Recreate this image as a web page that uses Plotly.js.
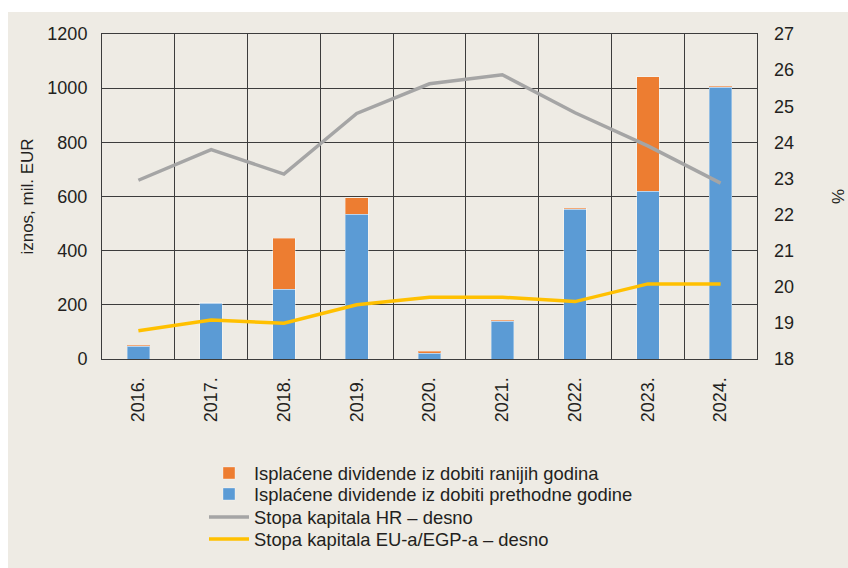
<!DOCTYPE html>
<html>
<head>
<meta charset="utf-8">
<script src="https://cdn.plot.ly/plotly-3.0.1.min.js"></script>
<style>html,body{margin:0;padding:0;background:#fff;}#chart{width:848px;height:568px;}</style>
</head>
<body>
<div id="chart"></div>
<script>
const years = ['2016.', '2017.', '2018.', '2019.', '2020.', '2021.', '2022.', '2023.', '2024.'];
const divPrethodne = [48, 205, 257, 534, 21, 140, 553, 619, 1003];
const divRanijih = [2, 3, 188, 61, 7, 4, 3, 424, 5];
const stopaHR = [22.95, 23.8, 23.12, 24.8, 25.62, 25.87, 24.82, 23.9, 22.87];
const stopaEU = [18.78, 19.08, 18.99, 19.5, 19.71, 19.71, 19.59, 20.08, 20.08];

const names = [
  'Isplaćene dividende iz dobiti ranijih godina',
  'Isplaćene dividende iz dobiti prethodne godine',
  'Stopa kapitala HR – desno',
  'Stopa kapitala EU-a/EGP-a – desno'
];

const FONT = 'Liberation Sans, Arial, sans-serif';
const TXT = '#231f20';
const GRID = '#3c3c3c';

const traces = [
  {type: 'bar', x: years, y: divPrethodne, name: names[1], legend: 'legend2',
   marker: {color: '#5B9BD5', line: {color: 'rgba(255,255,255,0.35)', width: 1}}},
  {type: 'bar', x: years, y: divRanijih, name: names[0], legend: 'legend',
   marker: {color: '#ED7D31', line: {color: 'rgba(255,255,255,0.35)', width: 1}}},
  {type: 'scatter', mode: 'lines', x: years, y: stopaHR, yaxis: 'y2', name: names[2], legend: 'legend3',
   line: {color: '#A5A5A5', width: 3.5}},
  {type: 'scatter', mode: 'lines', x: years, y: stopaEU, yaxis: 'y2', name: names[3], legend: 'legend4',
   line: {color: '#FFC000', width: 3.5}}
];

// px -> paper helpers for plot area l=102, r=757, t=34, b=359
const PX = px => (px - 102) / 655;
const PY = py => (359 - py) / 325;

function leg(rowY) {
  return {
    x: PX(204), y: PY(rowY), xanchor: 'left', yanchor: 'middle',
    bgcolor: 'rgba(0,0,0,0)', borderwidth: 0,
    font: {family: FONT, size: 18.4, color: TXT},
    itemwidth: 40
  };
}

const layout = {
  width: 848, height: 568,
  margin: {l: 102, r: 91, t: 34, b: 209, pad: 0, autoexpand: false},
  paper_bgcolor: '#ffffff',
  plot_bgcolor: 'rgba(0,0,0,0)',
  font: {family: FONT, size: 18, color: TXT},
  barmode: 'stack',
  bargap: 0.69,
  showlegend: true,
  legend: leg(473),
  legend2: leg(494),
  legend3: leg(517),
  legend4: leg(539),
  shapes: [
    {type: 'rect', xref: 'paper', yref: 'paper', layer: 'below',
     x0: PX(8), x1: PX(860), y0: PY(580), y1: PY(12),
     fillcolor: '#EEEBE4', line: {width: 0}}
  ],
  xaxis: {
    type: 'category', tickson: 'boundaries', automargin: false,
    showgrid: true, gridcolor: GRID, gridwidth: 1,
    showline: true, linecolor: GRID, linewidth: 1, mirror: true,
    ticks: '', tickangle: -90, ticklabelstandoff: 10,
    tickfont: {family: FONT, size: 18, color: TXT},
    zeroline: false, fixedrange: true
  },
  yaxis: {
    range: [0, 1200], dtick: 200, tick0: 0, automargin: false,
    showgrid: true, gridcolor: GRID, gridwidth: 1,
    showline: true, linecolor: GRID, linewidth: 1, mirror: true,
    ticks: '', ticklabelstandoff: 10, zeroline: false,
    tickfont: {family: FONT, size: 18, color: TXT},
    title: {text: 'iznos, mil. EUR', font: {family: FONT, size: 17, color: TXT}, standoff: 9}
  },
  yaxis2: {
    overlaying: 'y', side: 'right', automargin: false,
    range: [18, 27], dtick: 1, tick0: 18,
    showgrid: false, zeroline: false, showline: false,
    ticks: '', ticklabelstandoff: 16,
    tickfont: {family: FONT, size: 18, color: TXT},
    title: {text: '%', font: {family: FONT, size: 17, color: TXT}, standoff: 39}
  }
};

Plotly.newPlot('chart', traces, layout, {displayModeBar: false, staticPlot: true});
</script>
</body>
</html>
